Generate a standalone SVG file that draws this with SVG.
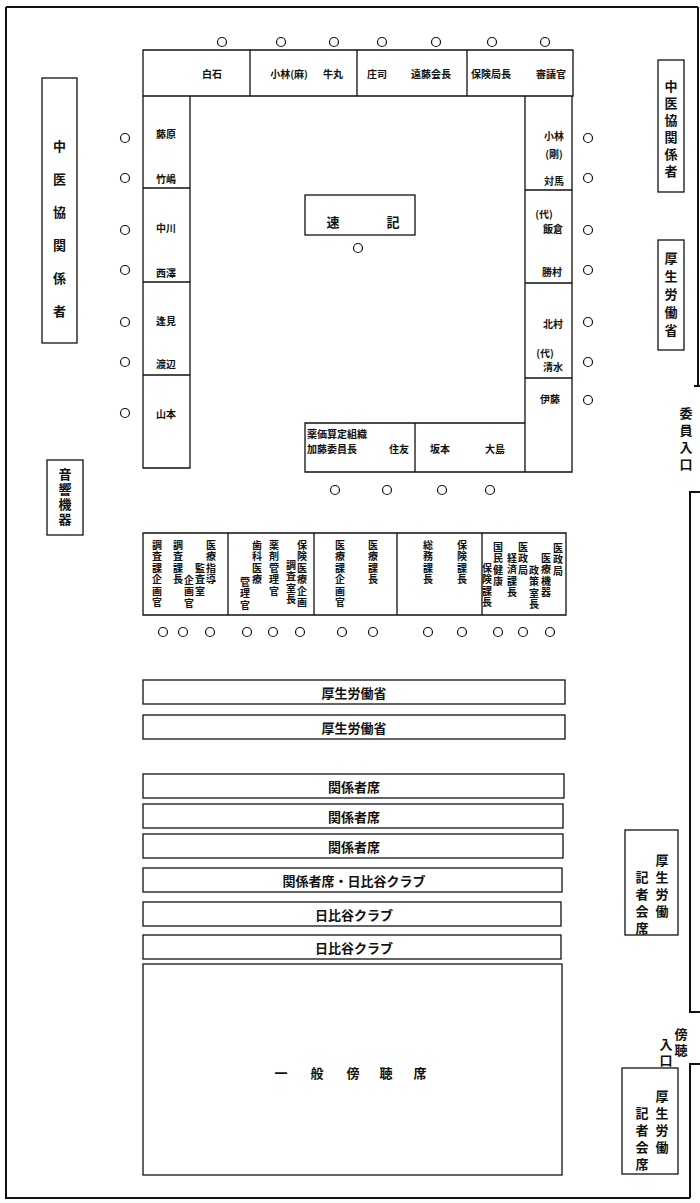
<svg xmlns="http://www.w3.org/2000/svg" width="700" height="1203" viewBox="0 0 700 1203">
<style>
.w{fill:none;stroke:#111;stroke-width:2}
.b{fill:#fff;stroke:#111;stroke-width:1.3}
.c{fill:#fff;stroke:#111;stroke-width:1.2}
.t{font-family:"Noto Sans CJK JP","Noto Sans",sans-serif;font-size:10px;font-weight:bold;fill:#111;dominant-baseline:central}
.m{text-anchor:middle}
.v{writing-mode:vertical-rl;letter-spacing:1.5px}
.L{font-size:13px}
</style>
<rect width="700" height="1203" fill="#fff"/>
<g id="walls">
<path class="w" d="M6 7H698M6 7V1198H690M698 7V386M694 386H700M700 492H690V1012H700M700 1064H690V1198"/>
</g>
<g id="committee-table">
<path class="b" d="M143 50H573V96H143ZM143 96H190V468H143ZM525 96H572V472H525ZM305 423H525V472H305Z"/>
<path class="b" d="M250 50V96M357 50V96M467 50V96M143 188H190M143 282H190M143 375H190M525 190H572M525 283H572M525 378H572M415 423V472"/>
</g>
<g id="top-row">
<text class="t m" x="212" y="73">白石</text>
<text class="t m" x="289" y="73">小林(麻)</text>
<text class="t m" x="333" y="73">牛丸</text>
<text class="t m" x="377" y="73">庄司</text>
<text class="t m" x="431" y="73">遠藤会長</text>
<text class="t m" x="491" y="73">保険局長</text>
<text class="t m" x="551" y="73">審議官</text>
<circle class="c" cx="222" cy="42" r="4.5"/><circle class="c" cx="281" cy="42" r="4.5"/><circle class="c" cx="334" cy="42" r="4.5"/><circle class="c" cx="382" cy="42" r="4.5"/><circle class="c" cx="436" cy="42" r="4.5"/><circle class="c" cx="492" cy="42" r="4.5"/><circle class="c" cx="545" cy="42" r="4.5"/>
</g>
<g id="left-column">
<text class="t m" x="166" y="133">藤原</text>
<text class="t m" x="166" y="178">竹嶋</text>
<text class="t m" x="166" y="227">中川</text>
<text class="t m" x="166" y="272">西澤</text>
<text class="t m" x="166" y="320">逢見</text>
<text class="t m" x="166" y="363">渡辺</text>
<text class="t m" x="166" y="413">山本</text>
<circle class="c" cx="125" cy="138" r="4.5"/><circle class="c" cx="125" cy="178" r="4.5"/><circle class="c" cx="125" cy="230" r="4.5"/><circle class="c" cx="125" cy="270" r="4.5"/><circle class="c" cx="125" cy="322" r="4.5"/><circle class="c" cx="125" cy="362" r="4.5"/><circle class="c" cx="125" cy="413" r="4.5"/>
</g>
<g id="right-column">
<text class="t m" x="554" y="135">小林</text>
<text class="t m" x="554" y="153">(剛)</text>
<text class="t m" x="554" y="180">対馬</text>
<text class="t m" x="544" y="213">(代)</text>
<text class="t m" x="553" y="228">飯倉</text>
<text class="t m" x="552" y="271">勝村</text>
<text class="t m" x="553" y="323">北村</text>
<text class="t m" x="545" y="352">(代)</text>
<text class="t m" x="553" y="366">清水</text>
<text class="t m" x="550" y="398">伊藤</text>
<circle class="c" cx="588" cy="138" r="4.5"/><circle class="c" cx="588" cy="178" r="4.5"/><circle class="c" cx="588" cy="230" r="4.5"/><circle class="c" cx="588" cy="270" r="4.5"/><circle class="c" cx="588" cy="322" r="4.5"/><circle class="c" cx="588" cy="362" r="4.5"/><circle class="c" cx="588" cy="400" r="4.5"/>
</g>
<g id="bottom-row">
<text class="t" x="307" y="433">薬価算定組織</text>
<text class="t" x="307" y="448">加藤委員長</text>
<text class="t m" x="399" y="448">住友</text>
<text class="t m" x="440" y="448">坂本</text>
<text class="t m" x="495" y="448">大島</text>
<circle class="c" cx="335" cy="490" r="4.5"/><circle class="c" cx="387" cy="490" r="4.5"/><circle class="c" cx="442" cy="490" r="4.5"/><circle class="c" cx="490" cy="490" r="4.5"/>
</g>
<g id="stenographer">
<rect class="b" x="305" y="195" width="110" height="40"/>
<text class="t L m" x="333" y="221">速</text>
<text class="t L m" x="393" y="221">記</text>
<circle class="c" cx="358" cy="248" r="4.5"/>
</g>
<g id="ministry-table">
<path class="b" d="M143 533H566V615H143ZM228 533V615M314 533V615M397 533V615M482 533V615"/>
<text class="t v" x="157" y="540">調査課企画官</text>
<text class="t v" x="178" y="540">調査課長</text>
<text class="t v" x="189" y="575">企画官</text>
<text class="t v" x="200" y="563">監査室</text>
<text class="t v" x="211" y="540">医療指導</text>
<text class="t v" x="245" y="577">管理官</text>
<text class="t v" x="257" y="540">歯科医療</text>
<text class="t v" x="274" y="540">薬剤管理官</text>
<text class="t v" x="291" y="560">調査室長</text>
<text class="t v" x="302" y="540">保険医療企画</text>
<text class="t v" x="340" y="540">医療課企画官</text>
<text class="t v" x="373" y="540">医療課長</text>
<text class="t v" x="428" y="540">総務課長</text>
<text class="t v" x="462" y="540">保険課長</text>
<text class="t v" x="487" y="563">保険課長</text>
<text class="t v" x="498" y="542">国民健康</text>
<text class="t v" x="512" y="553">経済課長</text>
<text class="t v" x="523" y="542">医政局</text>
<text class="t v" x="534" y="565">政策室長</text>
<text class="t v" x="546" y="553">医療機器</text>
<text class="t v" x="558" y="543">医政局</text>
<circle class="c" cx="163" cy="632" r="4.5"/><circle class="c" cx="183" cy="632" r="4.5"/><circle class="c" cx="210" cy="632" r="4.5"/><circle class="c" cx="247" cy="632" r="4.5"/><circle class="c" cx="273" cy="632" r="4.5"/><circle class="c" cx="300" cy="632" r="4.5"/><circle class="c" cx="342" cy="632" r="4.5"/><circle class="c" cx="373" cy="632" r="4.5"/><circle class="c" cx="428" cy="632" r="4.5"/><circle class="c" cx="462" cy="632" r="4.5"/><circle class="c" cx="498" cy="632" r="4.5"/><circle class="c" cx="523" cy="632" r="4.5"/><circle class="c" cx="550" cy="632" r="4.5"/>
</g>
<g id="label-left">
<rect class="b" x="42" y="78" width="35" height="265"/>
<text class="t L v" x="59.5" y="140" style="letter-spacing:20px">中医協関係者</text>
</g>
<g id="label-sound">
<rect class="b" x="47" y="460" width="36" height="75"/>
<text class="t L v" x="65" y="468" style="letter-spacing:2px">音響機器</text>
</g>
<g id="label-right-chuikyo">
<rect class="b" x="658" y="60" width="26" height="132"/>
<text class="t L v" x="671" y="80" style="letter-spacing:4px">中医協関係者</text>
</g>
<g id="label-right-mhlw">
<rect class="b" x="658" y="240" width="26" height="110"/>
<text class="t L v" x="671" y="252" style="letter-spacing:5px">厚生労働省</text>
</g>
<g id="entrance-committee">
<text class="t L v" x="686" y="407" style="letter-spacing:4px">委員入口</text>
</g>
<g id="row-1"><rect class="b" x="143" y="680" width="422" height="24"/><text class="t L m" x="354" y="692">厚生労働省</text></g>
<g id="row-2"><rect class="b" x="143" y="715" width="422" height="24"/><text class="t L m" x="354" y="727">厚生労働省</text></g>
<g id="row-3"><rect class="b" x="143" y="774" width="421" height="24"/><text class="t L m" x="354" y="786">関係者席</text></g>
<g id="row-4"><rect class="b" x="143" y="804" width="420" height="24"/><text class="t L m" x="354" y="816">関係者席</text></g>
<g id="row-5"><rect class="b" x="143" y="834" width="420" height="24"/><text class="t L m" x="354" y="846">関係者席</text></g>
<g id="row-6"><rect class="b" x="143" y="868" width="419" height="24"/><text class="t L m" x="354" y="880">関係者席・日比谷クラブ</text></g>
<g id="row-7"><rect class="b" x="143" y="902" width="418" height="24"/><text class="t L m" x="354" y="914">日比谷クラブ</text></g>
<g id="row-8"><rect class="b" x="143" y="935" width="418" height="24"/><text class="t L m" x="354" y="947">日比谷クラブ</text></g>
<g id="public-gallery">
<rect class="b" x="143" y="964" width="419" height="211"/>
<text class="t L m" x="281" y="1072">一</text><text class="t L m" x="317" y="1072">般</text><text class="t L m" x="353" y="1072">傍</text><text class="t L m" x="386" y="1072">聴</text><text class="t L m" x="420" y="1072">席</text>
</g>
<g id="press-upper">
<rect class="b" x="625" y="830" width="53" height="105"/>
<text class="t L v" x="662" y="854" style="letter-spacing:4px">厚生労働</text>
<text class="t L v" x="642" y="871" style="letter-spacing:4px">記者会席</text>
</g>
<g id="entrance-public">
<text class="t L v" x="681" y="1028" style="letter-spacing:3px">傍聴</text>
<text class="t L v" x="666" y="1038" style="letter-spacing:3px">入口</text>
</g>
<g id="press-lower">
<rect class="b" x="622" y="1068" width="56" height="106"/>
<text class="t L v" x="662" y="1090" style="letter-spacing:4px">厚生労働</text>
<text class="t L v" x="642" y="1107" style="letter-spacing:4px">記者会席</text>
</g>
</svg>
